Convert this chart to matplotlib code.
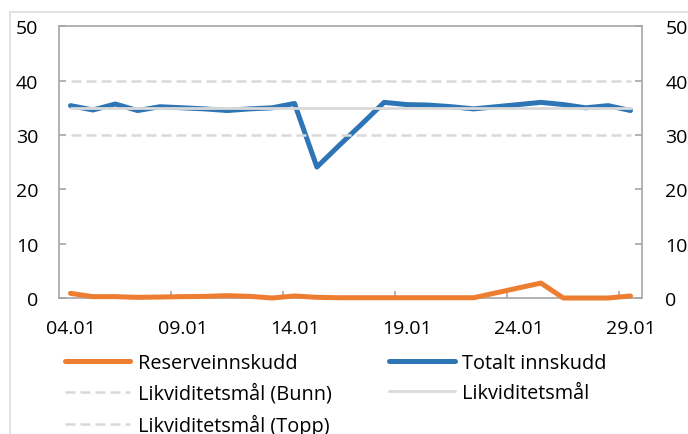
import numpy as np
import matplotlib
matplotlib.use("Agg")
import matplotlib.pyplot as plt
from matplotlib.patches import Rectangle

plt.rcParams['font.family'] = ['Open Sans', 'DejaVu Sans']

# ---- data ----
dates = ['04.01', '05.01', '06.01', '07.01', '08.01', '09.01', '10.01', '11.01',
         '12.01', '13.01', '14.01', '15.01', '16.01', '17.01', '18.01', '19.01',
         '20.01', '21.01', '22.01', '23.01', '24.01', '25.01', '26.01', '27.01',
         '28.01', '29.01']
reserveinnskudd = [0.85, 0.25, 0.25, 0.12, 0.18, 0.25, 0.3, 0.43, 0.3, 0.0, 0.37, 0.12,
                   0.05, 0.05, 0.05, 0.05, 0.05, 0.05, 0.05, 0.95, 1.85, 2.75, 0.0, 0.0,
                   0.0, 0.37]
totalt_innskudd = [35.4, 34.6, 35.7, 34.5, 35.2, 35.0, 34.8, 34.5, 34.8, 35.0, 35.8, 24.1,
                   28.1, 32.0, 36.0, 35.6, 35.5, 35.2, 34.8, 35.2, 35.6, 36.0, 35.6, 35.0,
                   35.4, 34.5]
likv_bunn = [30] * 26
likv_mal = [35] * 26
likv_topp = [40] * 26
label_every = 5
yticks = [0, 10, 20, 30, 40, 50]

W, H = 688, 435
fig = plt.figure(figsize=(W / 100, H / 100), dpi=100)
ax = fig.add_axes([59.3 / W, 1 - 299 / H, (641.7 - 59.3) / W, (299 - 27.3) / H])

x = np.arange(len(dates))
common = dict(solid_capstyle='round', solid_joinstyle='round', clip_on=False)
l_res, = ax.plot(x, reserveinnskudd, color='#ED7D31', lw=3.6, zorder=3, **common)
l_tot, = ax.plot(x, totalt_innskudd, color='#2E75B6', lw=3.6, zorder=3, **common)
l_bunn, = ax.plot(x, likv_bunn, color='#D9D9D9', lw=1.8, ls=(0, (4, 2)), zorder=4,
                  dash_capstyle='butt', clip_on=False)
l_mal, = ax.plot(x, likv_mal, color='#D9D9D9', lw=2.0, zorder=4, **common)
l_topp, = ax.plot(x, likv_topp, color='#D9D9D9', lw=1.8, ls=(0, (4, 2)), zorder=4,
                  dash_capstyle='butt', clip_on=False)

ax.set_xlim(-0.5, len(dates) - 0.5)
ax.set_ylim(0, 50)

spine_c = '#A6A6A6'
for s in ax.spines.values():
    s.set_color(spine_c)
    s.set_linewidth(1.2)

major = list(range(0, len(dates), label_every))
ax.set_xticks(major)
ax.set_xticklabels([dates[i] for i in major])
ax.set_xticks([i + 0.5 for i in range(label_every - 1, len(dates) - 1, label_every)], minor=True)
ax.tick_params(axis='x', which='major', length=0, pad=15, labelsize=14, labelcolor='#000000')
ax.tick_params(axis='x', which='minor', direction='in', length=5, width=1.2, color=spine_c)

ax.set_yticks(yticks)
ax.tick_params(axis='y', direction='in', length=5, width=1.2, color=spine_c,
               labelsize=14, pad=15, labelcolor='#000000')

ax2 = ax.twinx()
ax2.set_ylim(0, 50)
ax2.set_yticks(yticks)
for s in ax2.spines.values():
    s.set_visible(False)
ax2.tick_params(axis='y', direction='in', length=5, width=1.2, color=spine_c,
                labelsize=14, pad=17, labelcolor='#000000')

leg_kw = dict(loc='upper left', frameon=False, borderpad=0, borderaxespad=0,
              handlelength=3.3, handletextpad=0.38, labelspacing=0.52, fontsize=14.3)
fig.legend([l_res, l_bunn, l_topp],
           ['Reserveinnskudd', 'Likviditetsmål (Bunn)', 'Likviditetsmål (Topp)'],
           bbox_to_anchor=(64.5 / W, 1 - 354 / H), **leg_kw)
fig.legend([l_tot, l_mal],
           ['Totalt innskudd', 'Likviditetsmål'],
           bbox_to_anchor=(389.2 / W, 1 - 354 / H), **leg_kw)

fig.add_artist(Rectangle((10 / W, -0.2), 1.5, 1.2 - 13.3 / H, transform=fig.transFigure,
                         fill=False, ec='#D9D9D9', lw=1.1))

fig.savefig('out.png', dpi=100)
